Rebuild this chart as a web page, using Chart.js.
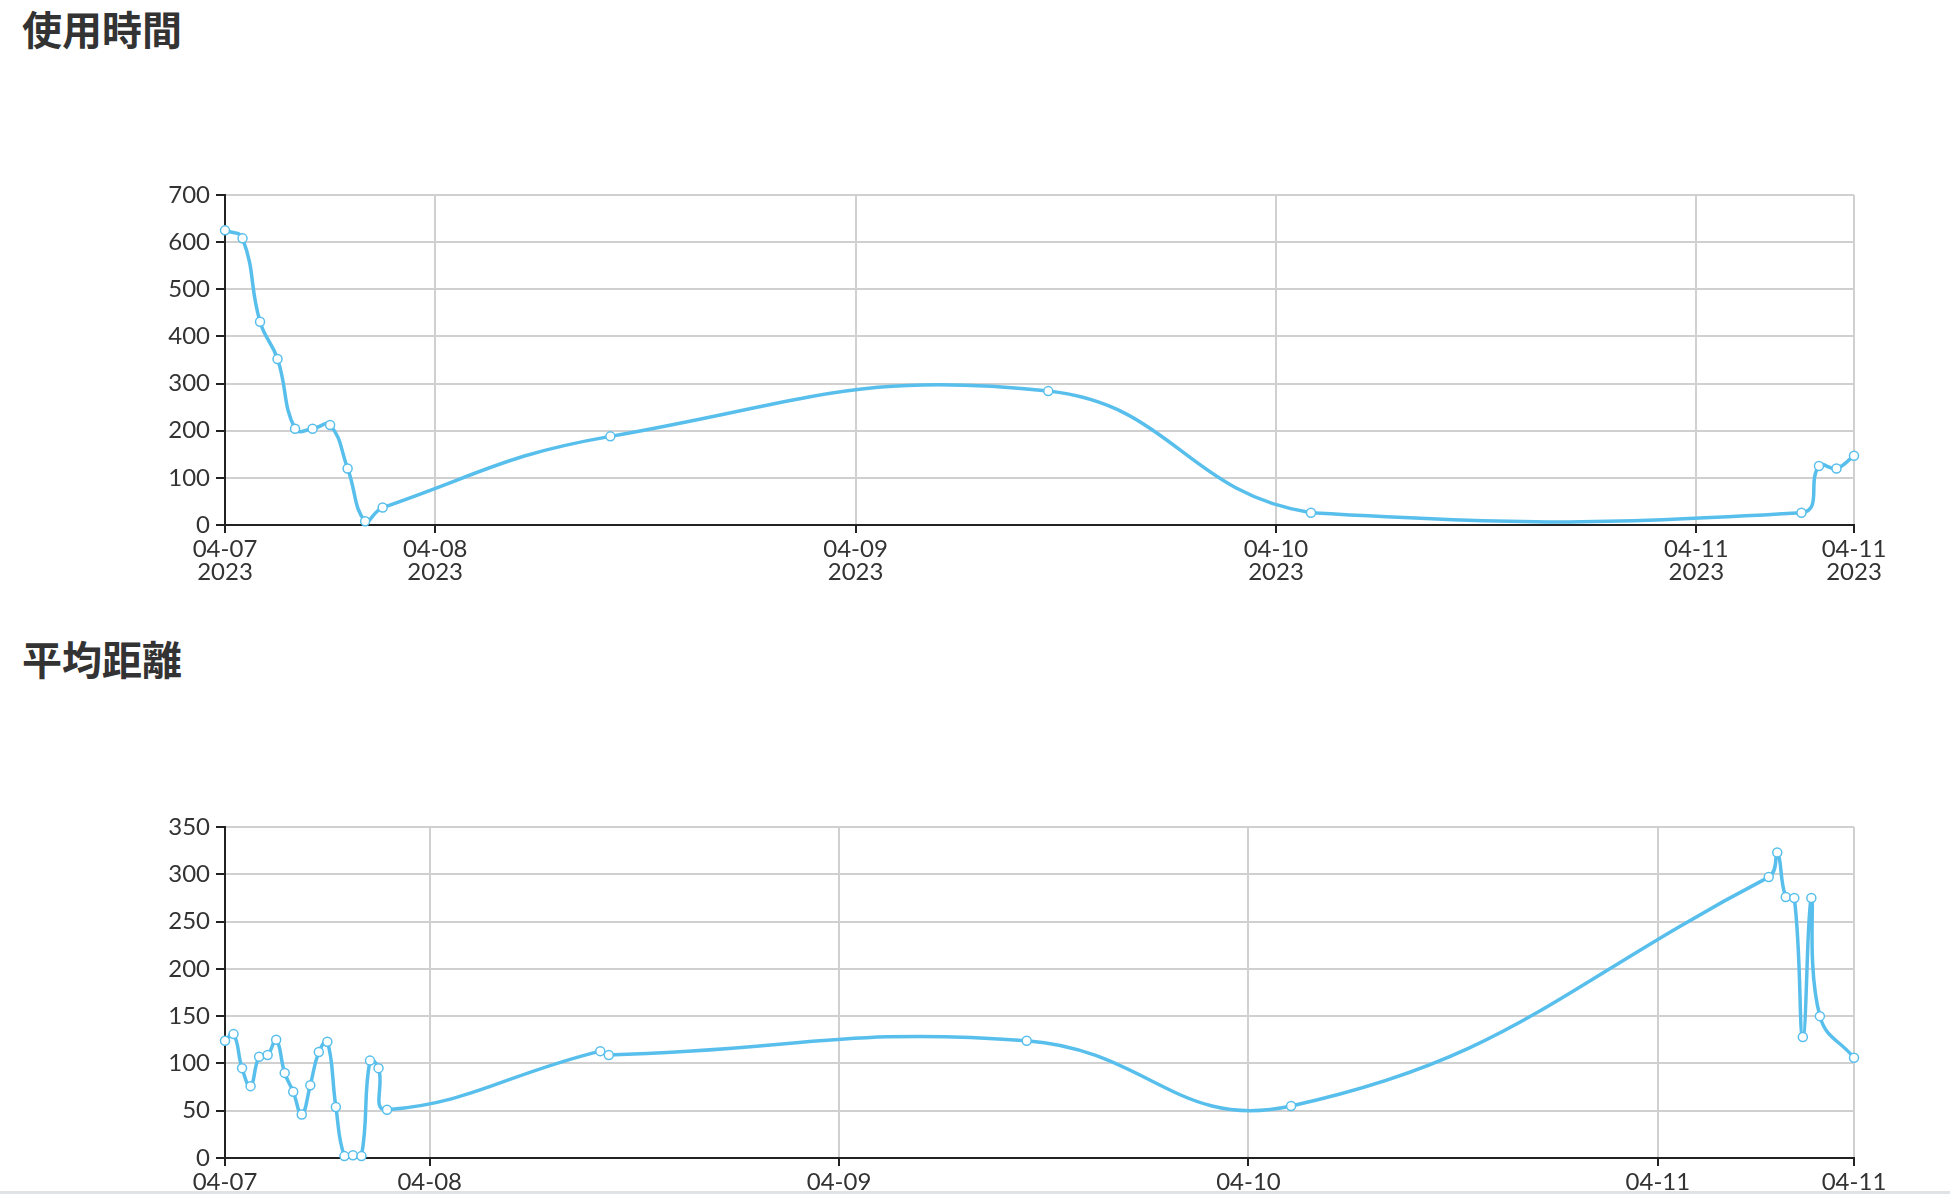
<!DOCTYPE html>
<html lang="ja">
<head>
  <meta charset="UTF-8">
  <title>使用時間 / 平均距離</title>
  <script src="https://cdn.jsdelivr.net/npm/chart.js"></script>
  <style>
    html, body { margin: 0; padding: 0; background: #fff; overflow: hidden; width: 1950px; height: 1194px; }
    h2 {
      position: absolute; left: 22px; margin: 0;
      font-family: "Noto Sans CJK JP", sans-serif; font-weight: 700;
      font-size: 40px; line-height: 40px; color: #333;
    }
    .box { position: absolute; left: 0; width: 1950px; }
    .strip { position: absolute; left: 0; top: 1191px; width: 1950px; height: 3px; background: #dfe3e5; }
  </style>
</head>
<body>
  <h2 style="top: 8px;">使用時間</h2>
  <div class="box" style="top: 150px; height: 450px;"><canvas id="usageChart"></canvas></div>

  <h2 style="top: 638px;">平均距離</h2>
  <div class="box" style="top: 780px; height: 450px;"><canvas id="distanceChart"></canvas></div>
  <div class="strip"></div>

  <script>
    // 使用時間 (hourly)
    const usageTimes = [
      '2023-04-07T12:00', '2023-04-07T13:00', '2023-04-07T14:00', '2023-04-07T15:00',
      '2023-04-07T16:00', '2023-04-07T17:00', '2023-04-07T18:00', '2023-04-07T19:00',
      '2023-04-07T20:00', '2023-04-07T21:00', '2023-04-08T10:00', '2023-04-09T11:00',
      '2023-04-10T02:00', '2023-04-11T06:00', '2023-04-11T07:00', '2023-04-11T08:00',
      '2023-04-11T09:00'
    ];
    const usageValues = [625, 608, 431, 352, 204, 204, 212, 120, 8, 37, 188, 284, 26, 26, 125, 120, 147];

    // 平均距離 (half-hourly)
    const distanceTimes = [
      '2023-04-07T12:00', '2023-04-07T12:30', '2023-04-07T13:00', '2023-04-07T13:30',
      '2023-04-07T14:00', '2023-04-07T14:30', '2023-04-07T15:00', '2023-04-07T15:30',
      '2023-04-07T16:00', '2023-04-07T16:30', '2023-04-07T17:00', '2023-04-07T17:30',
      '2023-04-07T18:00', '2023-04-07T18:30', '2023-04-07T19:00', '2023-04-07T19:30',
      '2023-04-07T20:00', '2023-04-07T20:30', '2023-04-07T21:00', '2023-04-07T21:30',
      '2023-04-08T10:00', '2023-04-08T10:30', '2023-04-09T11:00', '2023-04-10T02:30',
      '2023-04-11T06:30', '2023-04-11T07:00', '2023-04-11T07:30', '2023-04-11T08:00',
      '2023-04-11T08:30', '2023-04-11T09:00', '2023-04-11T09:30', '2023-04-11T11:30'
    ];
    const distanceValues = [
      124, 131, 95, 76, 107, 109, 125, 90, 70, 46, 77, 112, 123, 54, 2, 3, 2, 103, 95, 51,
      113, 109, 124, 55, 297, 323, 276, 275, 128, 275, 150, 106
    ];

    // day boundaries used as x ticks
    const dayTicks = ['2023-04-08T00:00', '2023-04-09T00:00', '2023-04-10T00:00', '2023-04-11T00:00'];

    const lineColor = '#58bfec';

    Chart.defaults.font.family = 'Lato, "Noto Sans", sans-serif';
    Chart.defaults.font.size = 24;
    Chart.defaults.color = '#333';

    const pad2 = n => String(n).padStart(2, '0');

    function makeChart(id, times, values, yMax, yStep, withYear, padTop) {
      const xs = times.map(t => new Date(t).getTime());
      const points = xs.map((x, i) => ({ x: x, y: values[i] }));
      const tickVals = [xs[0]].concat(dayTicks.map(t => new Date(t).getTime()), [xs[xs.length - 1]]);

      return new Chart(document.getElementById(id), {
        type: 'line',
        data: {
          datasets: [{
            data: points,
            borderColor: lineColor,
            borderWidth: 3.5,
            tension: 0.45,
            pointRadius: 4.5,
            pointBorderWidth: 1.5,
            pointBackgroundColor: '#fff',
            pointBorderColor: lineColor,
            fill: false,
            clip: false
          }]
        },
        options: {
          responsive: true,
          maintainAspectRatio: false,
          animation: false,
          events: [],
          layout: { padding: { top: padTop, right: 96, bottom: 5, left: 0 } },
          plugins: { legend: { display: false }, tooltip: { enabled: false } },
          scales: {
            x: {
              type: 'linear',
              min: xs[0],
              max: xs[xs.length - 1],
              afterBuildTicks: scale => { scale.ticks = tickVals.map(v => ({ value: v })); },
              afterFit: scale => { scale.height = withYear ? 70 : 67; },
              grid: { color: '#d0d0d0', lineWidth: 2, tickColor: '#222', tickLength: 8, tickWidth: 2 },
              border: { color: '#222', width: 2 },
              ticks: {
                autoSkip: false,
                maxRotation: 0,
                padding: 5,
                font: { size: 24, lineHeight: 0.95 },
                callback: v => {
                  const d = new Date(v);
                  const md = pad2(d.getMonth() + 1) + '-' + pad2(d.getDate());
                  return withYear ? [md, String(d.getFullYear())] : md;
                }
              }
            },
            y: {
              min: 0,
              max: yMax,
              afterFit: scale => { scale.width = 225; },
              grid: { color: '#d0d0d0', lineWidth: 2, tickColor: '#222', tickLength: 9, tickWidth: 2 },
              border: { color: '#222', width: 2 },
              ticks: { stepSize: yStep, padding: 6, font: { size: 24 } }
            }
          }
        }
      });
    }

    makeChart('usageChart', usageTimes, usageValues, 700, 100, true, 45);
    makeChart('distanceChart', distanceTimes, distanceValues, 350, 50, false, 47);
  </script>
</body>
</html>
